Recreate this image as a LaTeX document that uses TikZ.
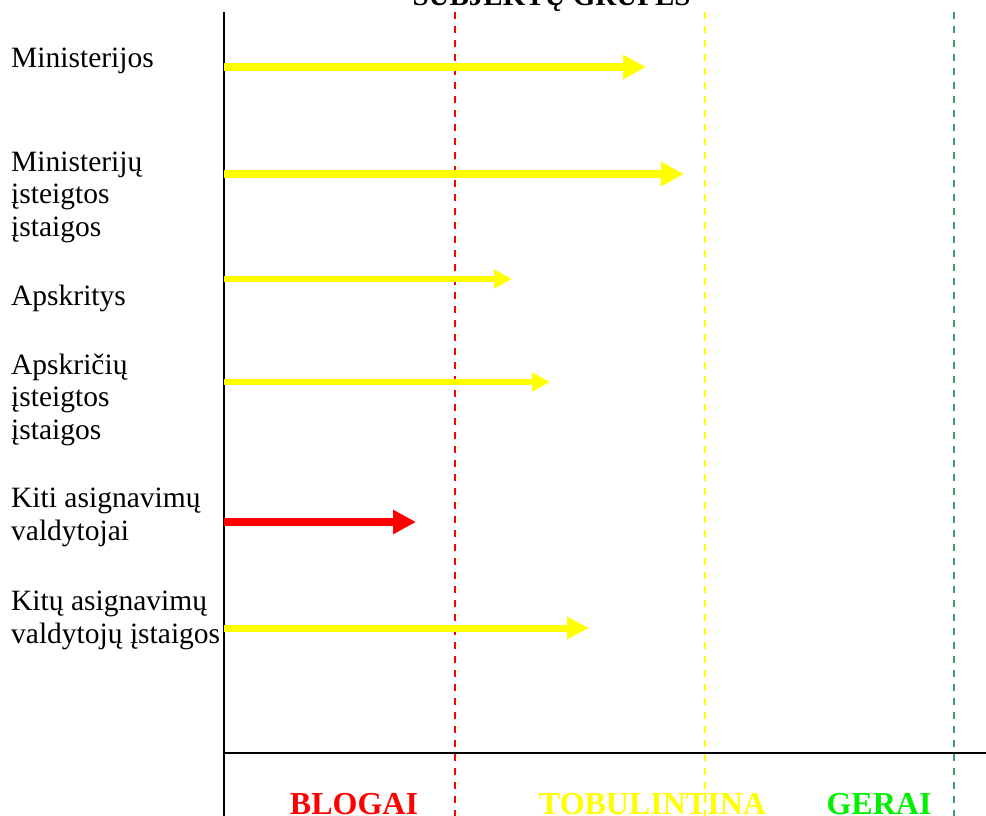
\documentclass[tikz,border=0pt]{standalone}
\usepackage{fontspec}
\setmainfont{Liberation Serif}
\usetikzlibrary{arrows.meta}
\definecolor{ylw}{RGB}{255,255,0}
\definecolor{rd}{RGB}{255,0,0}
\definecolor{dgreen}{RGB}{60,160,100}
\definecolor{lgreen}{RGB}{0,240,0}
\tikzset{
  lbl/.style={anchor=base west, inner sep=0pt, align=left, font=\fontsize{29.5}{32.5}\selectfont},
  zone/.style={anchor=base, inner sep=0pt, font=\fontsize{32}{36}\selectfont\bfseries},
  axis/.style={line width=2pt, black},
  divider/.style={line width=1.3pt, dash pattern=on 7pt off 7pt},
  bigarrow/.style={line width=8pt, -{Triangle[length=23pt,width=23pt]}},
  midarrow/.style={line width=7pt, -{Triangle[length=22pt,width=21pt]}},
  smallarrow/.style={line width=5.5pt, -{Triangle[length=18pt,width=18pt]}}
}
\begin{document}
\begin{tikzpicture}[x=1pt,y=-1pt]
\useasboundingbox (0,0) rectangle (986,816);
\clip (0,0) rectangle (986,816);
% title (cut off at top)
\node[anchor=base, inner sep=0pt, font=\fontsize{29}{32}\selectfont\bfseries] (title) at (551.5,6) {SUBJEKTŲ GRUPĖS};
% axes
\coordinate (ytop) at (224,12);
\coordinate (ybot) at (224,816);
\coordinate (xl) at (224,753);
\coordinate (xr) at (986,753);
\draw[axis] (ytop) -- (ybot);
\draw[axis] (xl) -- (xr);
% dividers
\coordinate (rt) at (455,12); \coordinate (rb) at (455,816);
\coordinate (yt) at (705,12); \coordinate (yb) at (705,816);
\coordinate (gt) at (954,12); \coordinate (gb) at (954,816);
\draw[divider, rd] (rt) -- (rb);
\draw[divider, ylw] (yt) -- (yb);
\draw[divider, dgreen] (gt) -- (gb);
% labels (base = baseline of last line)
\node[lbl] (l1) at (11,68) {Ministerijos};
\node[lbl] (l2) at (11,236) {Ministerijų\\įsteigtos\\įstaigos};
\node[lbl] (l3) at (11,305) {Apskritys};
\node[lbl] (l4) at (11,439) {Apskričių\\įsteigtos\\įstaigos};
\node[lbl] (l5) at (11,540) {Kiti asignavimų\\valdytojai};
\node[lbl] (l6) at (11,643) {Kitų asignavimų\\valdytojų įstaigos};
% arrows
\coordinate (s1) at (224,67);  \coordinate (e1) at (646,67);
\coordinate (s2) at (224,174); \coordinate (e2) at (684,174);
\coordinate (s3) at (224,279); \coordinate (e3) at (512,279);
\coordinate (s4) at (224,382); \coordinate (e4) at (550,382);
\coordinate (s5) at (224,522); \coordinate (e5) at (416,522);
\coordinate (s6) at (224,628); \coordinate (e6) at (589,628);
\draw[bigarrow, ylw] (s1) -- (e1);
\draw[bigarrow, ylw] (s2) -- (e2);
\draw[smallarrow, ylw] (s3) -- (e3);
\draw[smallarrow, ylw] (s4) -- (e4);
\draw[bigarrow, rd] (s5) -- (e5);
\draw[midarrow, ylw] (s6) -- (e6);
% zone labels
\node[zone, text=rd] (z1) at (354,814) {BLOGAI};
\node[zone, text=ylw] (z2) at (652.5,814) {TOBULINTINA};
\node[zone, text=lgreen] (z3) at (879,814) {GERAI};
\end{tikzpicture}
\end{document}
